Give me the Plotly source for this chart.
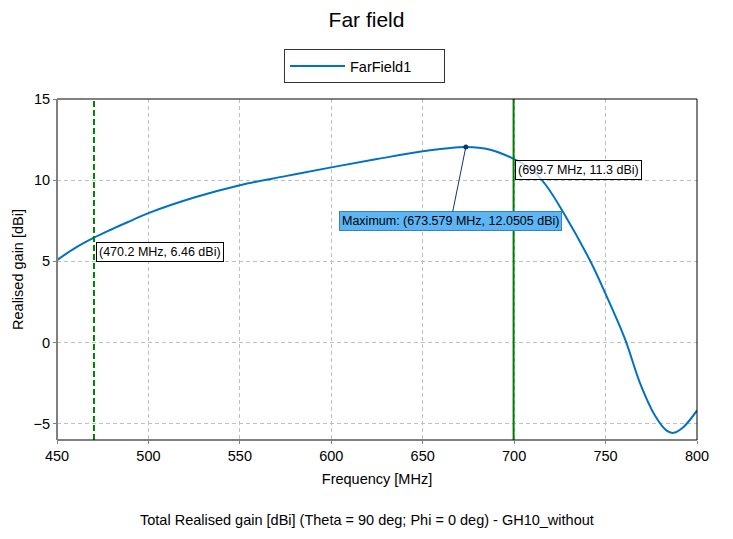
import plotly.graph_objects as go

freq_mhz = [450, 460, 470.2, 480, 490, 500, 525, 550, 575, 600, 625, 650, 673.579, 687, 700, 709, 717, 727, 741.5, 750, 760.6, 769, 777, 783.4, 787, 792.5, 800]
gain_dbi = [5.08, 5.83, 6.46, 6.98, 7.48, 7.97, 8.93, 9.69, 10.25, 10.79, 11.3, 11.78, 12.0505, 11.88, 11.3, 10.7, 9.75, 8.0, 5.05, 3.0, 0.23, -2.54, -4.49, -5.42, -5.56, -5.21, -4.18]

marker_lo = (470.2, 6.46)
marker_hi = (699.7, 11.3)
maximum = (673.579, 12.0505)

series_name = "FarField1"
title = "Far field"
x_title = "Frequency [MHz]"
y_title = "Realised gain [dBi]"
footer = "Total Realised gain [dBi] (Theta = 90 deg; Phi = 0 deg) - GH10_without"
x_ticks = [450, 500, 550, 600, 650, 700, 750, 800]
y_ticks = [-5, 0, 5, 10, 15]

FONT = "Liberation Sans, Arial, sans-serif"
LINE_BLUE = "#0072C6"
GREEN = "#008000"
FS = 14.5

fig = go.Figure()
fig.add_trace(go.Scatter(
    x=freq_mhz, y=gain_dbi, mode="lines", name=series_name,
    line=dict(color=LINE_BLUE, width=2, shape="spline", smoothing=1.0),
))
fig.add_trace(go.Scatter(
    x=[maximum[0]], y=[maximum[1]], mode="markers", showlegend=False,
    marker=dict(color="#0A3A6A", size=5),
))

# vertical markers
fig.add_shape(type="line", xref="x", yref="paper", x0=marker_lo[0], x1=marker_lo[0], y0=0, y1=1,
              line=dict(color=GREEN, width=2, dash="6px,3px"))
fig.add_shape(type="line", xref="x", yref="paper", x0=marker_hi[0], x1=marker_hi[0], y0=0, y1=1,
              line=dict(color=GREEN, width=2))
# frame
fig.add_shape(type="rect", xref="paper", yref="paper", x0=0, x1=1, y0=0, y1=1,
              line=dict(color="black", width=1), layer="above")
fig.add_shape(type="line", xref="paper", yref="paper", x0=0, x1=0, y0=0, y1=1,
              line=dict(color="#808080", width=2), layer="above")

ann_font = dict(family=FONT, size=12.5, color="black")
fig.add_annotation(x=marker_lo[0], y=marker_lo[1], xref="x", yref="y",
                   text=f"({marker_lo[0]} MHz, {marker_lo[1]} dBi)", showarrow=False,
                   xanchor="left", yanchor="top", xshift=2, yshift=-4,
                   bgcolor="rgba(255,255,255,0.75)", bordercolor="black", borderwidth=1, borderpad=2, font=ann_font)
fig.add_annotation(x=marker_hi[0], y=marker_hi[1], xref="x", yref="y",
                   text=f"({marker_hi[0]} MHz, {marker_hi[1]} dBi)", showarrow=False,
                   xanchor="left", yanchor="top", xshift=1, yshift=-1,
                   bgcolor="rgba(255,255,255,0.75)", bordercolor="black", borderwidth=1, borderpad=2, font=ann_font)
fig.add_annotation(x=maximum[0], y=maximum[1], xref="x", yref="y",
                   text=f"Maximum: ({maximum[0]} MHz, {maximum[1]} dBi)", showarrow=True,
                   arrowhead=0, arrowwidth=1, arrowcolor="#0A3A6A", ax=-15, ay=74,
                   bgcolor="#5CB6F5", bordercolor="#3A7FC0", borderwidth=1, borderpad=2, font=ann_font)

fig.add_annotation(x=(366.5 - 57) / 640, y=(440 - 520) / 341, xref="paper", yref="paper",
                   text=footer, showarrow=False, font=dict(family=FONT, size=FS, color="black"),
                   xanchor="center", yanchor="middle")

fig.update_layout(
    width=733, height=539,
    margin=dict(l=57, r=36, t=99, b=99),
    paper_bgcolor="white", plot_bgcolor="white",
    font=dict(family=FONT, size=FS, color="black"),
    title=dict(text=title, x=0.5, xanchor="center", y=1 - 20 / 539, yanchor="middle",
               font=dict(family=FONT, size=21, color="black")),
    legend=dict(orientation="h", x=(364.5 - 57) / 640, xanchor="center", y=(440 - 66) / 341, yanchor="middle",
                bordercolor="#333333", borderwidth=1, bgcolor="white",
                font=dict(family=FONT, size=FS, color="black"), itemwidth=55, entrywidth=89),
    showlegend=True,
)
fig.update_xaxes(range=[450, 800], tickvals=x_ticks, showgrid=True, gridcolor="#C0C0C0",
                 griddash="4px,3px", gridwidth=1, zeroline=False, showline=False,
                 ticks="outside", ticklen=3, tickcolor="#808080",
                 title=dict(text=x_title, standoff=10, font=dict(family=FONT, size=FS)))
fig.update_yaxes(range=[-6, 15], tickvals=y_ticks, showgrid=True, gridcolor="#C0C0C0",
                 griddash="4px,3px", gridwidth=1, zeroline=False, showline=False,
                 ticks="outside", ticklen=3, tickcolor="#808080",
                 title=dict(text=y_title, standoff=6, font=dict(family=FONT, size=FS)))

fig.write_html("out.html", config={"displayModeBar": False},
               post_script="document.body.style.margin='0px';")
